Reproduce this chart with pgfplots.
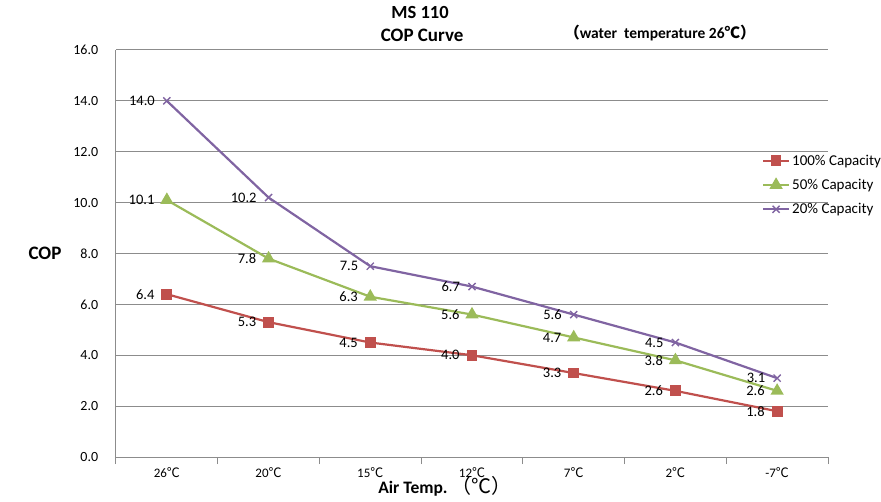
\documentclass[border=0pt]{standalone}
\usepackage{fontspec}
\setmainfont{Carlito}
\newfontfamily\cjk{Noto Sans CJK SC}
\usepackage{pgfplots}
\pgfplotsset{compat=1.18}
\definecolor{cred}{HTML}{C0504D}
\definecolor{cgreen}{HTML}{9BBB59}
\definecolor{cpurple}{HTML}{8064A2}
\definecolor{gridc}{HTML}{8C8C8C}
\newcommand{\degC}{{\cjk ℃}}
\begin{document}
\begin{tikzpicture}
\useasboundingbox (-116pt,-44pt) rectangle (765pt,457pt);
\begin{axis}[
  at={(0,0)}, anchor=south west, scale only axis,
  width=712pt, height=407pt,
  xmin=0, xmax=7, ymin=0, ymax=16,
  clip=false,
  axis x line*=bottom, axis y line*=left,
  axis line style={gridc, line width=1pt, -},
  ytick={0,2,...,16},
  ymajorgrids, grid style={gridc, line width=1pt},
  ytick style={draw=none},
  yticklabel style={/pgf/number format/fixed, /pgf/number format/fixed zerofill, /pgf/number format/precision=1, /pgf/number format/assume math mode=true,
    font=\fontsize{14}{16}\selectfont, xshift=-10pt},
  xtick={0.5,1.5,...,6.5},
  xticklabels={26\degC,20\degC,15\degC,12\degC,7\degC,2\degC,-7\degC},
  xticklabel style={font=\fontsize{13}{15}\selectfont, yshift=-3pt},
  major x tick style={draw=none},
  minor xtick={0,1,...,7},
  minor x tick style={gridc, line width=1pt},
  minor tick length=7pt,
  tick align=outside,
  every node near coord/.append style={font=\fontsize{14.5}{16}\selectfont, color=black, anchor=east, xshift=-8pt},
  legend style={at={(rel axis cs:0.907,0.748)}, anchor=north west, draw=none, fill=none,
    font=\fontsize{15}{18}\selectfont, row sep=8.5pt, inner sep=0pt},
  legend cell align=left,
  legend image code/.code={\draw[mark repeat=2,mark phase=2,#1] plot coordinates {(0pt,0pt)(13pt,0pt)(26pt,0pt)};},
]
\addplot[cred, line width=2.2pt, mark=square*, mark size=4.3pt, nodes near coords, point meta=explicit symbolic]
  coordinates {(0.5,6.4)[6.4] (1.5,5.3)[5.3] (2.5,4.5)[4.5] (3.5,4.0)[4.0] (4.5,3.3)[3.3] (5.5,2.6)[2.6] (6.5,1.8)[1.8]};
\addlegendentry{100\% Capacity}
\addplot[cgreen, line width=2.2pt, mark=triangle*, mark size=5.5pt, nodes near coords, point meta=explicit symbolic]
  coordinates {(0.5,10.1)[10.1] (1.5,7.8)[7.8] (2.5,6.3)[6.3] (3.5,5.6)[5.6] (4.5,4.7)[4.7] (5.5,3.8)[3.8] (6.5,2.6)[2.6]};
\addlegendentry{50\% Capacity}
\addplot[cpurple, line width=2.2pt, mark=x, mark size=5pt, mark options={line width=1.4pt}, nodes near coords, point meta=explicit symbolic]
  coordinates {(0.5,14.0)[14.0] (1.5,10.2)[10.2] (2.5,7.5)[7.5] (3.5,6.7)[6.7] (4.5,5.6)[5.6] (5.5,4.5)[4.5] (6.5,3.1)[3.1]};
\addlegendentry{20\% Capacity}
\node[font=\bfseries\fontsize{18.5}{20}\selectfont] at (rel axis cs:0.427,1) [yshift=38pt] {MS 110};
\node[font=\bfseries\fontsize{19}{21}\selectfont] at (rel axis cs:0.430,1) [yshift=15pt] {COP Curve};
\node[font=\bfseries\fontsize{15.5}{17}\selectfont] at (rel axis cs:0.764,1) [yshift=17pt] {{\cjk （}water\ \ temperature 26{\cjk ℃）}};
\node[font=\bfseries\fontsize{19}{21}\selectfont] at (rel axis cs:0,0.5) [xshift=-71pt] {COP};
\node[font=\bfseries\fontsize{17.5}{19}\selectfont, anchor=base] at (rel axis cs:0.462,0) [yshift=-36pt] {Air Temp.\ {\cjk\mdseries\fontsize{20}{22}\selectfont （℃）}};
\end{axis}
\end{tikzpicture}
\end{document}
